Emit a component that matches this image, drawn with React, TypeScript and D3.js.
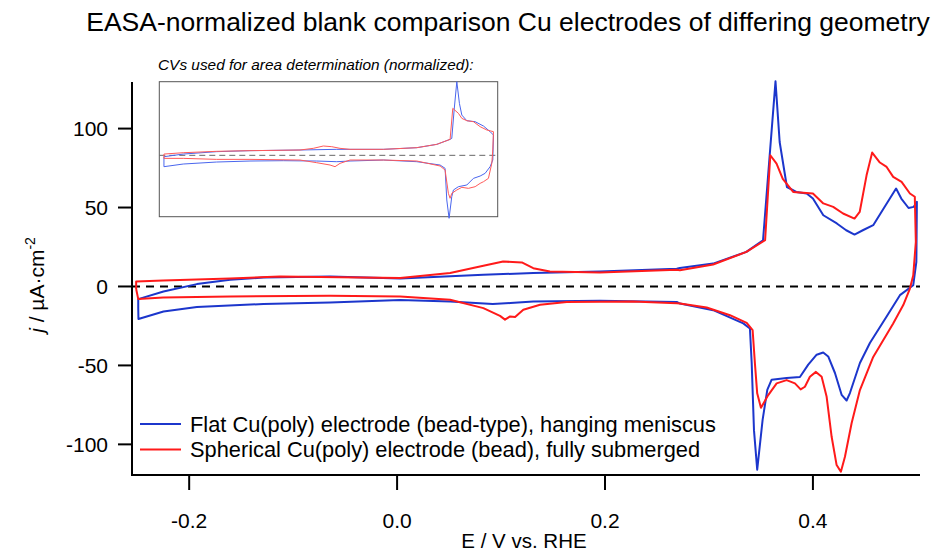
import React from "react";
import * as d3 from "d3";

// main CVs (E in V vs RHE, j in µA/cm²), traced as closed loops
const flatE = [
  -0.249, -0.249, -0.2247, -0.1926, -0.1606, -0.1286, -0.0644, 0.003, 0.083, 0.131, 0.195, 0.269, 0.272,
  0.304, 0.336, 0.352, 0.364, 0.368, 0.375, 0.384, 0.394, 0.4, 0.41, 0.423, 0.432, 0.44, 0.448, 0.458,
  0.468, 0.48, 0.485, 0.492, 0.497, 0.5, 0.4995, 0.4965, 0.4837, 0.4709, 0.4548, 0.4452, 0.4356, 0.4324,
  0.4276, 0.4212, 0.4147, 0.4099, 0.4036, 0.3955, 0.3875, 0.3747, 0.3603, 0.3561, 0.3516, 0.3464, 0.3433,
  0.3411, 0.3394, 0.333, 0.3041, 0.2721, 0.269, 0.195, 0.131, 0.109, 0.092, 0.051, 0.003, -0.0644, -0.1286,
  -0.1926, -0.2247, -0.2488, -0.249,
];
const flatJ = [
  -13.7, -8.0, -3.2, 1.5, 4.2, 5.7, 6.3, 5.0, 7.4, 8.5, 9.5, 11.2, 11.7,
  14.5, 21.9, 29.3, 129.9, 91.5, 63, 59.9, 58.9, 55.7, 45.1, 39.9, 35.6, 32.9, 35.6, 38.8,
  49.4, 62, 55.7, 49.7, 50.4, 53.6, 15.6, 0.8, -5.5, -19, -35.8, -48.5, -67.5, -72.2,
  -68.6, -54.8, -44.3, -41.8, -43.2, -49.5, -57.3, -58, -59, -65.5, -84.5, -116, -91,
  -48.5, -26.6, -23.4, -15, -10.8, -9.8, -9.1, -9.5, -10.5, -11.1, -9.5, -8.6, -10.1, -11.1,
  -13, -15.8, -20.6, -13.7,
];

const sphE = [
  -0.251, -0.251, -0.225, -0.1606, -0.1125, 0.003, 0.051, 0.083, 0.102, 0.12, 0.131, 0.147, 0.195, 0.269,
  0.272, 0.304, 0.336, 0.354, 0.359, 0.365, 0.371, 0.381, 0.4, 0.41, 0.4195, 0.429, 0.44, 0.445, 0.4516,
  0.457, 0.4644, 0.4709, 0.4772, 0.4853, 0.4933, 0.498, 0.499, 0.4965, 0.4933, 0.4869, 0.4772, 0.458,
  0.4452, 0.4372, 0.4308, 0.4269, 0.4228, 0.418, 0.4132, 0.4084, 0.4029, 0.3971, 0.3923, 0.3882, 0.3827,
  0.3747, 0.3651, 0.357, 0.35, 0.3464, 0.3442, 0.342, 0.3363, 0.3202, 0.2978, 0.2721, 0.269, 0.2269,
  0.1632, 0.1375, 0.1214, 0.1135, 0.1087, 0.1038, 0.099, 0.083, 0.051, 0.003, -0.0644, -0.1606, -0.225,
  -0.249, -0.251,
];
const sphJ = [
  -1.6, 3.2, 3.8, 5.0, 6.3, 5.3, 8.5, 13.1, 15.8, 15.2, 11.6, 9.5, 8.9, 10.6,
  10.3, 13.9, 21.9, 29.3, 83.1, 77.8, 68.2, 59.9, 58.9, 52.6, 50.4, 46.2, 43.0, 47.2, 70.4,
  84.8, 78.5, 75.7, 69.4, 66.2, 58.9, 56.8, 28.2, 7.1, -1.3, -11.8, -23.4, -44.6,
  -65.6, -86.6, -107.8, -117.3, -113.1, -95.2, -69.9, -57.2, -54.1, -57.2, -63.5, -65.2, -61.4,
  -59.3, -61.4, -68.8, -76.8, -67.7, -48.7, -27.7, -23, -18.2, -13.3, -10.8, -10.6, -9.5,
  -9.9, -11.6, -14.7, -19.4, -19, -21, -18.6, -13.7, -8.4, -6.3, -5.9, -6.3, -7,
  -8, -1.6,
];

// inset CVs (area determination, normalized)
const insetFlatE = [
  -0.2227, -0.184, -0.1171, -0.0503, 0.0499, 0.1235, 0.2169, 0.2839, 0.324, 0.3506, 0.354, 0.3587, 0.3641,
  0.3693, 0.3741, 0.3841, 0.4008, 0.4175, 0.4308, 0.4375, 0.4362, 0.4308, 0.4208, 0.4108, 0.3974, 0.3841,
  0.3673, 0.3573, 0.354, 0.3486, 0.344, 0.3406, 0.3306, 0.2839, 0.2169, 0.1502, 0.1235, 0.0834, 0.0164,
  -0.0503, -0.1171, -0.184, -0.2227, -0.2227,
];
const insetFlatJ = [
  -2.5, 2.3, 6.6, 8.4, 9.6, 10.8, 10.8, 13.8, 19.8, 28.8, 30.6, 81.8, 132.9,
  93.8, 72.7, 62.5, 60.7, 52.9, 42.7, 36.6, -8.5, -20.5, -32.5, -37.4, -41.6, -53.6,
  -56.6, -62.6, -74.6, -113.7, -80.7, -23.5, -17.5, -11.5, -8.5, -10.3, -11.5, -10.3, -9.7,
  -10.3, -12.1, -15.7, -20.5, -2.5,
];
const insetSphE = [
  -0.2227, -0.2227, -0.184, -0.1171, -0.0503, 0.0499, 0.0766, 0.0966, 0.1135, 0.1301, 0.1502, 0.2169, 0.2839,
  0.324, 0.3506, 0.356, 0.3673, 0.3741, 0.3841, 0.3974, 0.4108, 0.4242, 0.4375, 0.4362, 0.4342, 0.4274,
  0.4175, 0.4108, 0.4008, 0.3874, 0.3741, 0.3641, 0.354, 0.3506, 0.3472, 0.3406, 0.3306, 0.2839, 0.2169,
  0.1502, 0.1301, 0.1201, 0.1101, 0.0834, 0.0499, -0.0503, -0.1171, -0.184, -0.2227,
];
const insetSphJ = [
  -5.5, 2.3, 4.7, 7.2, 8.4, 9.6, 12.6, 16.8, 15.6, 12.6, 10.8, 10.8, 13.8,
  19.8, 28.8, 84.8, 75.8, 66.7, 62.5, 60.7, 51.7, 45.7, 42.7, 9.6, -14.5, -41.6,
  -47.6, -50.6, -56.6, -59.6, -57.8, -62.6, -68.6, -77.6, -68.6, -26.5, -19.3, -10.3, -8.5,
  -8.5, -14.5, -20.5, -17.5, -13.3, -8.5, -7.3, -7.3, -5.5, -5.5,
];

const xTicks = [-0.2, 0.0, 0.2, 0.4];
const yTicks = [-100, -50, 0, 50, 100];
const seriesNames = [
  "Flat Cu(poly) electrode (bead-type), hanging meniscus",
  "Spherical Cu(poly) electrode (bead), fully submerged",
];

const W = 934;
const H = 551;
const FONT = "'Liberation Sans', Arial, sans-serif";
const BLUE = "#1c36cc";
const RED = "#ff1a1a";

const App: React.FC = () => {
  const x = d3.scaleLinear().domain([-0.255, 0.503]).range([132, 920]);
  const y = d3.scaleLinear().domain([-119.4, 129.5]).range([475, 82]);

  // inset has its own frame
  const ix = d3.scaleLinear().domain([-0.232, 0.446]).range([159.3, 497.7]);
  const iy = d3.scaleLinear().domain([-110.8, 132.9]).range([216.7, 81.7]);

  const path = (es: number[], js: number[], sx: any, sy: any) =>
    d3
      .line<number>()
      .x((e) => sx(e))
      .y((_, i) => sy(js[i]))(es) || "";

  const [x0, x1] = x.range();
  const [yb, yt] = y.range();

  return (
    <svg
      width={W}
      height={H}
      style={{ position: "absolute", left: 0, top: 0, background: "#fff" }}
      fontFamily={FONT}
    >
      <text x={508} y={31} textAnchor="middle" fontSize={26.5} fill="#000">
        EASA-normalized blank comparison Cu electrodes of differing geometry
      </text>

      {/* zero line */}
      <line
        x1={x0}
        x2={x1}
        y1={y(0)}
        y2={y(0)}
        stroke="#000"
        strokeWidth={2}
        strokeDasharray="8,6"
      />

      <path d={path(flatE, flatJ, x, y)} fill="none" stroke={BLUE} strokeWidth={2} strokeLinejoin="round" />
      <path d={path(sphE, sphJ, x, y)} fill="none" stroke={RED} strokeWidth={2} strokeLinejoin="round" />

      {/* axes */}
      <line x1={x0} x2={x0} y1={yt} y2={yb} stroke="#000" strokeWidth={2} />
      <line x1={x0 - 1} x2={x1} y1={yb} y2={yb} stroke="#000" strokeWidth={2} />
      {yTicks.map((t) => (
        <g key={t}>
          <line x1={x0 - 14} x2={x0} y1={y(t)} y2={y(t)} stroke="#000" strokeWidth={2} />
          <text x={108} y={y(t)} dy="0.35em" textAnchor="end" fontSize={21}>
            {t}
          </text>
        </g>
      ))}
      {xTicks.map((t) => (
        <g key={t}>
          <line x1={x(t)} x2={x(t)} y1={yb} y2={yb + 15} stroke="#000" strokeWidth={2} />
          <text x={x(t)} y={528} textAnchor="middle" fontSize={21}>
            {t.toFixed(1)}
          </text>
        </g>
      ))}
      <text x={524} y={548} textAnchor="middle" fontSize={20.5}>
        E / V vs. RHE
      </text>
      <text transform="translate(44,285) rotate(-90)" textAnchor="middle" fontSize={21}>
        <tspan fontStyle="italic">j</tspan> / µA·cm
        <tspan dy={-9} fontSize={14}>-2</tspan>
      </text>

      {/* legend */}
      {seriesNames.map((name, i) => (
        <g key={name}>
          <line
            x1={140}
            x2={181}
            y1={424 + i * 25.5}
            y2={424 + i * 25.5}
            stroke={i === 0 ? BLUE : RED}
            strokeWidth={2}
          />
          <text x={190} y={424 + i * 25.5} dy="0.35em" fontSize={21.8}>
            {name}
          </text>
        </g>
      ))}

      {/* inset */}
      <text x={158} y={70} fontSize={15.4} fontStyle="italic">
        CVs used for area determination (normalized):
      </text>
      <rect x={159.3} y={81.7} width={338.4} height={135} fill="#fff" stroke="#555" strokeWidth={1} />
      <line
        x1={ix.range()[0]}
        x2={ix.range()[1]}
        y1={iy(0)}
        y2={iy(0)}
        stroke="#666"
        strokeWidth={1}
        strokeDasharray="6,4"
      />
      <path d={path(insetFlatE, insetFlatJ, ix, iy)} fill="none" stroke="#4a66ee" strokeWidth={1} />
      <path d={path(insetSphE, insetSphJ, ix, iy)} fill="none" stroke="#ff5a5a" strokeWidth={1} />
    </svg>
  );
};

export default App;
